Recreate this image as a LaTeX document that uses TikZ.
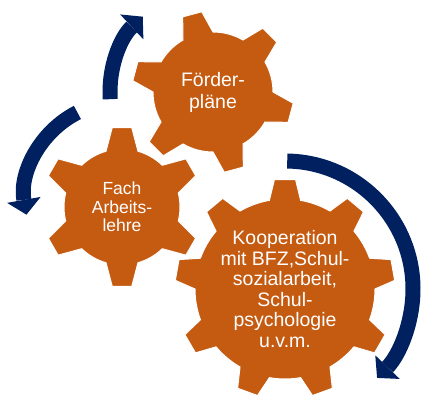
\documentclass[tikz,border=0pt]{standalone}
\usepackage{fontspec}
\setmainfont{Liberation Sans}
\usetikzlibrary{arrows.meta}
\definecolor{gearorange}{HTML}{C55A11}
\definecolor{arrownavy}{HTML}{002060}

\begin{document}
\begin{tikzpicture}[x=1pt, y=1pt,
        gear/.style={fill=gearorange, draw=white, line width=1pt},
        gearlabel/.style={text=white, align=center, inner sep=0pt},
        turn/.style={draw=arrownavy, line width=15pt,
            -{Triangle[length=15pt, width=34pt, line width=0pt]}}]
        \useasboundingbox (0,0) rectangle (423,399);

        \coordinate (plan) at (213,307);
        \coordinate (fach) at (122,192);
        \coordinate (koop) at (285,110);

        % gears
        \begin{scope}[shift={(fach)}]
            \filldraw[gear] (14:58) \foreach \a in {30,90,...,330} {
                -- (\a-16:58) -- (\a-7:80) -- (\a+7:80) -- (\a+16:58)
                arc[start angle=\a+16, end angle=\a+44, radius=58]} -- cycle;
        \end{scope}
        \begin{scope}[shift={(plan)}]
            \filldraw[gear] (30:60) \foreach \a in {45,105,...,345} {
                -- (\a-15:60) -- (\a-7:81) -- (\a+7:81) -- (\a+15:60)
                arc[start angle=\a+15, end angle=\a+45, radius=60]} -- cycle;
        \end{scope}
        \begin{scope}[shift={(koop)}]
            \filldraw[gear] (0:90) \foreach \a in {10,50,...,330} {
                -- (\a-10:90) -- (\a-5.5:110) -- (\a+5.5:110) -- (\a+10:90)
                arc[start angle=\a+10, end angle=\a+30, radius=90]} -- cycle;
        \end{scope}

        % arrows
        \draw[turn] (plan) ++(184:103) arc[start angle=184, end angle=133, radius=103];
        \draw[turn] (121,201) ++(117:96) arc[start angle=117, end angle=190, radius=96];
        \draw[turn] (koop) ++(89:128) arc[start angle=89, end angle=-44, radius=128];

        \node[gearlabel, font=\fontsize{19.5}{22}\selectfont] (plantext) at (plan) {Förder-\\pläne};
        \node[gearlabel, font=\fontsize{17.5}{18.5}\selectfont] (fachtext) at (fach) {Fach\\Arbeits-\\lehre};
        \node[gearlabel, font=\fontsize{19.5}{20.5}\selectfont] (kooptext) at (koop)
            {Kooperation\\mit BFZ,Schul-\\sozialarbeit,\\Schul-\\psychologie\\u.v.m.};
\end{tikzpicture}
\end{document}
